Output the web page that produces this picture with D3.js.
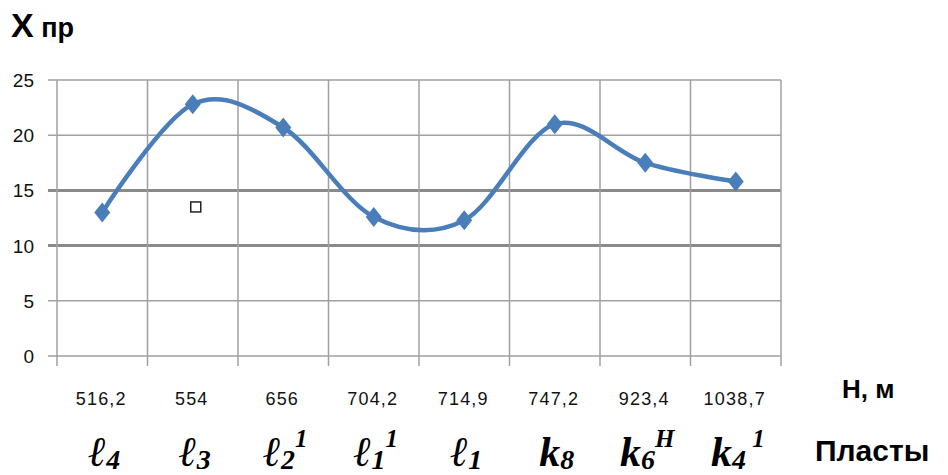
<!DOCTYPE html>
<html>
<head>
<meta charset="utf-8">
<script src="https://cdn.jsdelivr.net/npm/d3@7"></script>
<style>
  body { margin: 0; background: #fff; }
  text { font-family: "Liberation Sans", Arial, sans-serif; }
</style>
</head>
<body>
<div id="chart"></div>
<script>
// values
const depths = ["516,2", "554", "656", "704,2", "714,9", "747,2", "923,4", "1038,7"];
const xpr = [13.0, 22.8, 20.7, 12.6, 12.3, 21.0, 17.5, 15.8];
const yTicks = [0, 5, 10, 15, 20, 25];
const boldGrid = [10, 15];
// formation names: [base, subscript, superscript]
const layers = [["ℓ", "4", ""], ["ℓ", "3", ""], ["ℓ", "2", "1"], ["ℓ", "1", "1"],
                ["ℓ", "1", ""], ["k", "8", ""], ["k", "6", "H"], ["k", "4", " 1"]];
// stray empty box left in the picture
const strayBox = [{cat: "554", v: 13.5}];

(function () {
  const width = 948, height = 475;
  const svg = d3.select("#chart").append("svg")
    .attr("width", width).attr("height", height);

  const x = d3.scaleBand().domain(depths).range([57, 781]);
  const y = d3.scaleLinear().domain([0, 25]).range([356, 80]);
  const cx = d => x(d) + x.bandwidth() / 2;

  // horizontal gridlines (with ticks sticking out left)
  svg.selectAll(".hgrid").data(yTicks).enter().append("line")
    .attr("x1", 48).attr("x2", x.range()[1])
    .attr("y1", d => y(d)).attr("y2", d => y(d))
    .attr("stroke", d => boldGrid.includes(d) ? "#8a8a8a" : "#a0a0a0")
    .attr("stroke-width", d => boldGrid.includes(d) ? 3 : 1.5);

  // vertical gridlines at category borders, sticking out below
  const borders = depths.map(d => x(d)).concat([x.range()[1]]);
  svg.selectAll(".vgrid").data(borders).enter().append("line")
    .attr("x1", d => d).attr("x2", d => d)
    .attr("y1", y(25)).attr("y2", y(0) + 10)
    .attr("stroke", "#a0a0a0").attr("stroke-width", 1.5);

  // y tick labels
  svg.selectAll(".ylab").data(yTicks).enter().append("text")
    .attr("x", 34).attr("y", d => y(d) + 7)
    .attr("text-anchor", "end")
    .attr("font-size", 19).attr("fill", "#111")
    .text(d => d);

  // x tick labels (depth)
  svg.selectAll(".xlab").data(depths).enter().append("text")
    .attr("x", d => cx(d) - 1).attr("y", 405)
    .attr("text-anchor", "middle")
    .attr("font-size", 18).attr("letter-spacing", 1.2)
    .attr("fill", "#111")
    .text(d => d);

  // formation labels
  const lab = svg.selectAll(".layer").data(layers).enter().append("text")
    .attr("x", (d, i) => cx(depths[i]) + 2)
    .attr("y", 466)
    .attr("text-anchor", "middle")
    .style("font-family", "'Liberation Serif', 'Times New Roman', serif")
    .attr("font-weight", "bold").attr("font-style", "italic")
    .attr("font-size", 42).attr("fill", "#000");
  lab.append("tspan").text(d => d[0]);
  lab.append("tspan").attr("font-size", 28).attr("dy", 3).text(d => d[1]);
  lab.filter(d => d[2]).append("tspan").attr("font-size", 25).attr("dy", -22)
    .style("white-space", "pre").attr("xml:space", "preserve").text(d => d[2]);

  // titles
  const yt = svg.append("text").attr("x", 11).attr("y", 37).attr("font-weight", "bold");
  yt.append("tspan").attr("font-size", 34).text("X");
  yt.append("tspan").attr("font-size", 27).text(" пр");

  svg.append("text").attr("x", 842).attr("y", 398)
    .attr("font-weight", "bold").attr("font-size", 26).text("Н, м");
  svg.append("text").attr("x", 815).attr("y", 461)
    .attr("font-weight", "bold").attr("font-size", 30).text("Пласты");

  // smoothed line
  const pts = depths.map((d, i) => ({d, v: xpr[i]}));
  const line = d3.line().x(p => cx(p.d)).y(p => y(p.v))
    .curve(d3.curveCardinal.tension(0));
  svg.append("path").datum(pts)
    .attr("d", line)
    .attr("fill", "none").attr("stroke", "#4a7ebb")
    .attr("stroke-width", 4.5).attr("stroke-linecap", "round");

  // diamond markers
  svg.selectAll(".mk").data(pts).enter().append("path")
    .attr("transform", p => `translate(${cx(p.d)},${y(p.v)})`)
    .attr("d", "M0,-10L8,0L0,10L-8,0Z")
    .attr("fill", "#4a7ebb");

  // stray box
  svg.selectAll(".stray").data(strayBox).enter().append("rect")
    .attr("x", b => cx(b.cat) - 2).attr("y", b => y(b.v) - 5)
    .attr("width", 10).attr("height", 10)
    .attr("fill", "#fff").attr("stroke", "#222").attr("stroke-width", 1.5);
})();
</script>
</body>
</html>
